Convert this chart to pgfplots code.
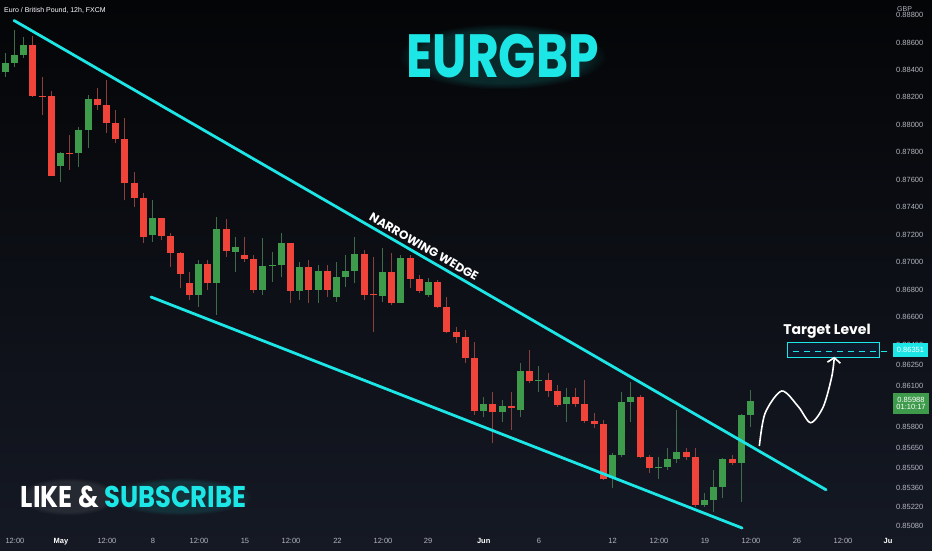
\documentclass[border=0pt]{standalone}
\usepackage{pgfplots}
\pgfplotsset{compat=1.18}
\usepackage{pgfplotstable}
\usepackage{graphicx}
\usepackage{fontspec}
\setmainfont{Liberation Sans}
\newfontfamily\pop{Poppins}
\usetikzlibrary{arrows.meta,fadings}
\definecolor{bgtop}{HTML}{040507}
\definecolor{bgbot}{HTML}{151924}
\definecolor{cy}{HTML}{1CE6E6}
\definecolor{upc}{HTML}{3E9B4B}
\definecolor{dnc}{HTML}{F0433A}
\definecolor{upw}{HTML}{3F6C48}
\definecolor{dnw}{HTML}{8A403B}
\definecolor{tk}{HTML}{B2B5BE}
\definecolor{boxfill}{HTML}{0E1A2C}

% candles: i open high low close
\pgfplotstableread{
i o h l c
0 0.88385 0.88523 0.88349 0.88453
1 0.88453 0.88691 0.88421 0.88509
2 0.88509 0.88640 0.88487 0.88582
6 0.87703 0.87800 0.87586 0.87795
8 0.87793 0.87985 0.87696 0.87963
9 0.87963 0.88218 0.87832 0.88186
16 0.87198 0.87453 0.87150 0.87320
21 0.86762 0.87016 0.86676 0.86985
23 0.86847 0.87332 0.86616 0.87240
25 0.87077 0.87186 0.86931 0.87109
28 0.86798 0.87177 0.86762 0.86973
29 0.86976 0.87077 0.86858 0.86980
30 0.86980 0.87213 0.86895 0.87138
32 0.86791 0.87004 0.86725 0.86968
34 0.86798 0.86980 0.86703 0.86939
36 0.86749 0.87004 0.86713 0.86891
37 0.86891 0.87053 0.86822 0.86936
38 0.86936 0.87186 0.86847 0.87058
41 0.86757 0.87104 0.86713 0.86931
43 0.86706 0.87053 0.86703 0.87029
46 0.86762 0.86883 0.86749 0.86854
52 0.85919 0.86021 0.85876 0.85968
54 0.85912 0.85997 0.85839 0.85954
56 0.85924 0.86264 0.85876 0.86208
58 0.86136 0.86245 0.86058 0.86143
61 0.85966 0.86082 0.85839 0.86021
66 0.85427 0.85614 0.85354 0.85597
67 0.85597 0.86058 0.85584 0.85985
68 0.85985 0.86130 0.85839 0.86017
71 0.85500 0.85584 0.85420 0.85512
72 0.85512 0.85646 0.85488 0.85566
73 0.85566 0.85924 0.85536 0.85621
76 0.85233 0.85318 0.85220 0.85269
77 0.85269 0.85488 0.85184 0.85366
78 0.85366 0.85575 0.85282 0.85566
80 0.85536 0.85895 0.85257 0.85888
81 0.85888 0.86070 0.85803 0.85988
}\candleup

\pgfplotstableread{
i o h l c
3 0.88582 0.88647 0.88203 0.88213
4 0.88213 0.88351 0.88072 0.88209
5 0.88213 0.88247 0.87625 0.87630
7 0.87795 0.87926 0.87672 0.87792
10 0.88186 0.88269 0.88108 0.88145
11 0.88145 0.88327 0.87941 0.88012
12 0.88012 0.88108 0.87868 0.87895
13 0.87895 0.88050 0.87453 0.87575
14 0.87575 0.87659 0.87404 0.87466
15 0.87466 0.87504 0.87140 0.87186
17 0.87320 0.87325 0.87162 0.87193
18 0.87193 0.87213 0.86968 0.87070
19 0.87070 0.87075 0.86813 0.86912
20 0.86847 0.86931 0.86725 0.86762
22 0.86985 0.87016 0.86798 0.86847
24 0.87240 0.87313 0.87040 0.87082
26 0.87053 0.87186 0.87004 0.87022
27 0.87022 0.87053 0.86774 0.86798
31 0.87138 0.87140 0.86703 0.86791
33 0.86968 0.87016 0.86703 0.86798
35 0.86939 0.86980 0.86749 0.86798
39 0.87058 0.87089 0.86725 0.86762
40 0.86767 0.87040 0.86494 0.86760
42 0.86931 0.87067 0.86689 0.86706
44 0.87029 0.87053 0.86813 0.86878
45 0.86878 0.86907 0.86774 0.86791
47 0.86854 0.86871 0.86665 0.86672
48 0.86672 0.86749 0.86483 0.86494
49 0.86494 0.86531 0.86410 0.86454
50 0.86458 0.86507 0.86267 0.86301
51 0.86301 0.86422 0.85888 0.85919
53 0.85968 0.86058 0.85682 0.85912
55 0.85954 0.86058 0.85779 0.85937
57 0.86208 0.86361 0.86119 0.86136
59 0.86143 0.86192 0.86021 0.86065
60 0.86065 0.86106 0.85948 0.85961
62 0.86021 0.86082 0.85948 0.85968
63 0.85968 0.86143 0.85828 0.85847
64 0.85847 0.85900 0.85791 0.85823
65 0.85823 0.85852 0.85415 0.85420
69 0.86017 0.86034 0.85573 0.85580
70 0.85580 0.85597 0.85464 0.85500
74 0.85621 0.85646 0.85560 0.85580
75 0.85580 0.85646 0.85220 0.85233
79 0.85566 0.85597 0.85524 0.85536
}\candledn

\newcommand\mon[1]{\textcolor{white}{\bfseries #1}}
\pgfplotsset{candle/.style 2 args={draw=none, mark=none, forget plot, error bars/.cd, y dir=plus, y explicit, error mark=none, error bar style={draw=#1, line width=#2}}}

\begin{document}
\begin{tikzpicture}
\useasboundingbox (0pt,-18pt) rectangle (932pt,532pt);
\shade[top color=bgtop, bottom color=bgbot] (0pt,-18pt) rectangle (932pt,532pt);
% soft glows behind the captions
\fill[cy, opacity=0.15, path fading=circle with fuzzy edge 20 percent] (502.5pt,475.5pt) ellipse (104pt and 33pt);
\fill[white, opacity=0.08, path fading=circle with fuzzy edge 20 percent] (68pt,35.5pt) ellipse (50pt and 19pt);
\fill[cy, opacity=0.12, path fading=circle with fuzzy edge 20 percent] (180pt,35.5pt) ellipse (72pt and 19pt);
\begin{axis}[
  at={(0pt,0pt)}, anchor=south west,
  scale only axis, width=890pt, height=532pt,
  xmin=-0.576, xmax=96.16, ymin=0.850362, ymax=0.889092,
  axis line style={draw=none}, major tick length=0pt, tick style={draw=none},
  /pgf/number format/assume math mode=true,
  xtick={1.05,6.05,11.05,16.05,21.05,26.05,31.05,36.1,41.05,45.95,52,58,66,71.05,76.05,81.05,86.05,91.05,95.95},
  xticklabels={12:00,\mon{May},12:00,8,12:00,15,12:00,22,12:00,29,\mon{Jun},6,12,12:00,19,12:00,26,12:00,\mon{Ju}},
  xticklabel style={font=\fontsize{7.5}{8}\selectfont, text=tk, anchor=base, yshift=-11.7pt, inner sep=0pt},
  ytick={0.888,0.886,0.884,0.882,0.880,0.878,0.876,0.874,0.872,0.870,0.868,0.866,0.864,0.8625,0.861,0.858,0.8565,0.855,0.8536,0.8522,0.8508},
  yticklabel pos=right,
  yticklabel style={font=\fontsize{7.5}{8}\selectfont, text=tk, anchor=west, inner sep=0pt, xshift=6pt,
    /pgf/number format/fixed, /pgf/number format/fixed zerofill, /pgf/number format/precision=5},
]
% wicks
\addplot[candle={upw}{1pt}]
  table[x=i, y=l, y error plus expr=\thisrow{h}-\thisrow{l}] {\candleup};
\addplot[candle={dnw}{1pt}]
  table[x=i, y=l, y error plus expr=\thisrow{h}-\thisrow{l}] {\candledn};
% bodies
\addplot[candle={upc}{7pt}]
  table[x=i, y=o, y error plus expr=\thisrow{c}-\thisrow{o}] {\candleup};
\addplot[candle={dnc}{7pt}]
  table[x=i, y=c, y error plus expr=\thisrow{o}-\thisrow{c}] {\candledn};
% wedge lines
\addplot[cy, line width=2.8pt, line cap=round] coordinates {(0.95,0.88760) (89.21,0.853435)};
\addplot[cy, line width=2.8pt, line cap=round] coordinates {(15.84,0.86747) (80.08,0.850654)};
% target box and level
\draw[cy, line width=1.2pt, fill=boxfill] (axis cs:84.99,0.864173) rectangle (axis cs:95.0,0.863081);
\addplot[cy, line width=1pt, dash pattern=on 6pt off 5pt] coordinates {(85.6,0.86351) (96.16,0.86351)};
% projected path arrow
\addplot[white, line width=1.6pt, smooth, -{Straight Barb[length=5pt, width=13pt, line width=1.6pt]}] coordinates {
 (81.96,0.856623) (82.58,0.859004) (84.39,0.860627) (86.20,0.859484) (87.54,0.858319) (88.91,0.859484) (89.83,0.861668) (90.11,0.863124)};
\end{axis}
% price tags
\fill[cy] (893pt,175pt) rectangle (928pt,189pt);
\node[text=white, font=\fontsize{7.5}{8}\selectfont, anchor=center] at (910.5pt,182pt) {0.86351};
\fill[upc] (893pt,118pt) rectangle (929pt,139pt);
\node[text=white, font=\fontsize{7.5}{8}\selectfont, anchor=center, align=center, inner sep=0pt] at (911pt,128.5pt) {0.85988\\[-0.5pt]01:10:17};
\node[text=tk, font=\fontsize{7}{8}\selectfont, anchor=west, inner sep=0pt] at (897pt,523pt) {GBP};
% header text
\node[text=white, font=\fontsize{7}{8}\selectfont, anchor=west, inner sep=0pt] at (4pt,522pt) {Euro / British Pound, 12h, FXCM};
% captions
\node[text=cy] at (502.5pt,475.5pt) {\scalebox{0.8}[1]{\pop\bfseries\fontsize{61}{61}\selectfont EURGBP}};
\node at (133.5pt,35.5pt) {\scalebox{0.86}[1]{\pop\bfseries\fontsize{30}{30}\selectfont \textcolor{white}{LIKE \&} \textcolor{cy}{SUBSCRIBE}}};
\node[text=white, rotate=-30, font=\pop\bfseries\fontsize{12}{12}\selectfont] at (424pt,285.3pt) {NARROWING WEDGE};
\node[text=white, font=\pop\bfseries\fontsize{14}{14}\selectfont] at (827pt,201pt) {Target Level};
\end{tikzpicture}
\end{document}
